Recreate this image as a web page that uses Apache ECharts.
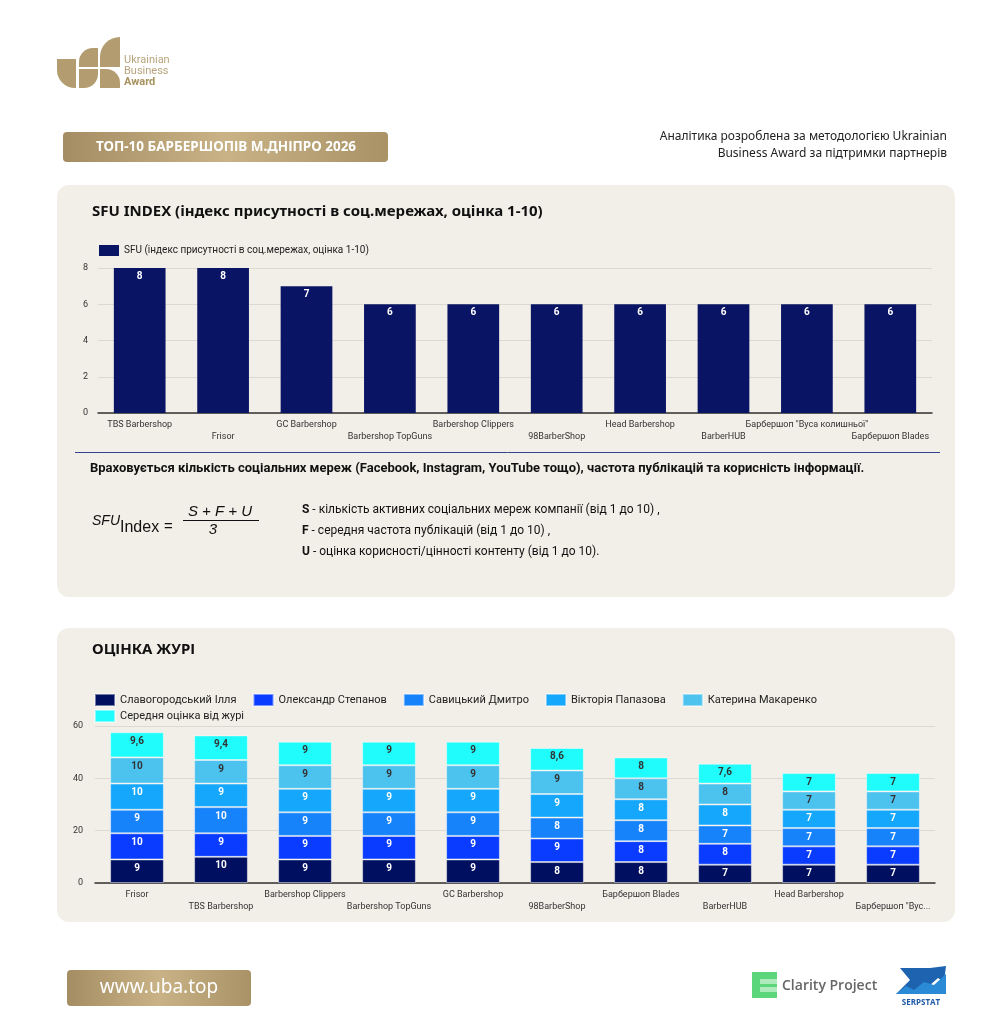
<!DOCTYPE html>
<html><head><meta charset="utf-8">
<script src="https://cdn.jsdelivr.net/npm/echarts@6/dist/echarts.min.js"></script>
<style>html,body{margin:0;padding:0;background:#fff}#c{width:1004px;height:1024px}</style>
</head><body><div id="c"></div>
<script>
// ---------- data ----------
const sfuCats = ['TBS Barbershop','Frisor','GC Barbershop','Barbershop TopGuns','Barbershop Clippers','98BarberShop','Head Barbershop','BarberHUB','Барбершоп "Вуса колишньої"','Барбершоп Blades'];
const sfuVals = [8,8,7,6,6,6,6,6,6,6];
const sfuTicks = [0,2,4,6,8];

const juryCats = ['Frisor','TBS Barbershop','Barbershop Clippers','Barbershop TopGuns','GC Barbershop','98BarberShop','Барбершоп Blades','BarberHUB','Head Barbershop','Барбершоп "Вуса колишньої"'];
const slavohorodskyi = [9,10,9,9,9,8,8,7,7,7];
const stepanov = [10,9,9,9,9,9,8,8,7,7];
const savytskyi = [9,10,9,9,9,8,8,7,7,7];
const papazova = [10,9,9,9,9,9,8,8,7,7];
const makarenko = [10,9,9,9,9,9,8,8,7,7];
const juryAvg = [9.6,9.4,9,9,9,8.6,8,7.6,7,7];
const juryTicks = [0,20,40,60];
const juryNames = ['Славогородський Ілля','Олександр Степанов','Савицький Дмитро','Вікторія Папазова','Катерина Макаренко','Середня оцінка від журі'];

// ---------- styles ----------
const FONT = "'Liberation Sans Narrow','Roboto',sans-serif";
const juryColors = ['#000f5f','#0a3cff','#1783fb','#15a7fc','#4cc2ee','#20fcfc'];
const labelColors = ['#fff','#fff','#fff','#fff','#333','#333'];
const gold = {type:'linear',x:0,y:0,x2:1,y2:0,colorStops:[{offset:0,color:'#a48d62'},{offset:0.5,color:'#c8b286'},{offset:1,color:'#a99366'}]};
const panelBg = '#f2efe8';

const juryData = [slavohorodskyi, stepanov, savytskyi, papazova, makarenko, juryAvg];

const stagger = (v, i) => (i % 2 ? '\n' + v : v);

const chart = echarts.init(document.getElementById('c'), null, {renderer:'canvas'});

const logoColor = '#b39d70';
const graphics = [
  // panels
  {type:'rect', z:-10, shape:{x:57,y:185,width:898,height:412,r:12}, style:{fill:panelBg}},
  {type:'rect', z:-10, shape:{x:57,y:628,width:898,height:294,r:12}, style:{fill:panelBg}},
  // UBA logo
  {type:'rect', shape:{x:57,y:59,width:19,height:29,r:[0,0,0,18]}, style:{fill:logoColor}},
  {type:'rect', shape:{x:79,y:48,width:19,height:19,r:[14,0,0,0]}, style:{fill:logoColor}},
  {type:'rect', shape:{x:79,y:69,width:19,height:19,r:[0,0,14,0]}, style:{fill:logoColor}},
  {type:'rect', shape:{x:100,y:37,width:20,height:30,r:[20,0,0,0]}, style:{fill:logoColor}},
  {type:'rect', shape:{x:100,y:69,width:20,height:19,r:[0,14,0,0]}, style:{fill:logoColor}},
  {type:'text', x:124, y:55, style:{text:'Ukrainian', font:'11px Roboto, sans-serif', fill:'#b8a47c'}},
  {type:'text', x:124, y:66, style:{text:'Business', font:'11px Roboto, sans-serif', fill:'#b8a47c'}},
  {type:'text', x:124, y:77, style:{text:'Award', font:'bold 11px Roboto, sans-serif', fill:'#a8925f'}},
  // title badge
  {type:'rect', shape:{x:63,y:132,width:325,height:30,r:4}, style:{fill:gold}},
  {type:'text', x:226, y:147, style:{text:'ТОП-10 БАРБЕРШОПІВ М.ДНІПРО 2026', font:"bold 13.5px 'Noto Sans', sans-serif", fill:'#fff', align:'center', verticalAlign:'middle'}},
  // right header
  {type:'text', x:947, y:137, style:{text:'Аналітика розроблена за методологією Ukrainian', font:"12px 'Noto Sans', sans-serif", fill:'#222', align:'right', verticalAlign:'middle'}},
  {type:'text', x:947, y:154, style:{text:'Business Award за підтримки партнерів', font:"12px 'Noto Sans', sans-serif", fill:'#222', align:'right', verticalAlign:'middle'}},
  // panel titles
  {type:'text', x:92, y:212, style:{text:'SFU INDEX (індекс присутності в соц.мережах, оцінка 1-10)', font:"bold 15px 'Noto Sans', sans-serif", fill:'#111', verticalAlign:'middle'}},
  {type:'text', x:92, y:650, style:{text:'ОЦІНКА ЖУРІ', font:"bold 15px 'Noto Sans', sans-serif", fill:'#111', verticalAlign:'middle'}},
  // separator
  {type:'line', shape:{x1:75,y1:452.5,x2:940,y2:452.5}, style:{stroke:'#34428c', lineWidth:1}},
  {type:'text', x:90, y:469, style:{text:'Враховується кількість соціальних мереж (Facebook, Instagram, YouTube тощо), частота публікацій та корисність інформації.', font:"bold 13px " + FONT, fill:'#111', verticalAlign:'middle'}},
  // formula
  {type:'text', x:92, y:521, style:{text:'SFU', font:"italic 14px 'Liberation Sans', sans-serif", fill:'#111', verticalAlign:'middle'}},
  {type:'text', x:120, y:528, style:{text:'Index', font:"16px 'Liberation Sans', sans-serif", fill:'#111', verticalAlign:'middle'}},
  {type:'text', x:164, y:527, style:{text:'=', font:"15px 'Liberation Sans', sans-serif", fill:'#111', verticalAlign:'middle'}},
  {type:'text', x:220, y:512, style:{text:'S + F + U', font:"italic 15px 'Liberation Sans', sans-serif", fill:'#111', align:'center', verticalAlign:'middle'}},
  {type:'line', shape:{x1:183,y1:520.5,x2:259,y2:520.5}, style:{stroke:'#111', lineWidth:1}},
  {type:'text', x:213, y:530, style:{text:'3', font:"italic 15px 'Liberation Sans', sans-serif", fill:'#111', align:'center', verticalAlign:'middle'}},
  {type:'text', x:302, y:510, style:{text:'{b|S} - кількість активних соціальних мереж компанії (від 1 до 10) ,', font:"12px " + FONT, fill:'#111', verticalAlign:'middle', rich:{b:{fontWeight:'bold', fontSize:12, fontFamily:FONT, fill:'#111'}}}},
  {type:'text', x:302, y:531, style:{text:'{b|F} - середня частота публікацій (від 1 до 10) ,', font:"12px " + FONT, fill:'#111', verticalAlign:'middle', rich:{b:{fontWeight:'bold', fontSize:12, fontFamily:FONT, fill:'#111'}}}},
  {type:'text', x:302, y:552, style:{text:'{b|U} - оцінка корисності/цінності контенту (від 1 до 10).', font:"12px " + FONT, fill:'#111', verticalAlign:'middle', rich:{b:{fontWeight:'bold', fontSize:12, fontFamily:FONT, fill:'#111'}}}},
  // footer badge
  {type:'rect', shape:{x:67,y:970,width:184,height:36,r:4}, style:{fill:gold}},
  {type:'text', x:159, y:988, style:{text:'www.uba.top', font:"19px 'Noto Sans', sans-serif", fill:'#fff', align:'center', verticalAlign:'middle'}},
  // Clarity Project logo
  {type:'rect', shape:{x:752,y:972,width:25,height:26}, style:{fill:'#3ecf63', opacity:0.85}},
  {type:'rect', shape:{x:760,y:979,width:17,height:5}, style:{fill:'#fff', opacity:0.5}},
  {type:'rect', shape:{x:760,y:987,width:17,height:5}, style:{fill:'#fff', opacity:0.5}},
  {type:'text', x:782, y:986, style:{text:'Clarity Project', font:"600 14px 'Open Sans', sans-serif", fill:'#666', verticalAlign:'middle'}},
  // Serpstat logo
  {type:'polygon', shape:{points:[[900,968],[930,968],[946,966],[944,982],[938,978],[920,994],[896,994],[910,980],[905,974]]}, style:{fill:'#1e63b0'}},
  {type:'polygon', shape:{points:[[896,994],[906,986],[914,990],[924,982],[934,985],[946,974],[946,994]]}, style:{fill:'#2b8ad6'}},
  {type:'text', x:921, y:1003, style:{text:'SERPSTAT', font:"bold 8px 'Open Sans', sans-serif", fill:'#1e5aa8', align:'center', verticalAlign:'middle'}}
];

const juryFmt = p => String(p.value).replace('.', ',');
const juryLegendText = {fontSize:11, color:'#222', fontFamily:FONT};

const option = {
  animation:false,
  backgroundColor:'#ffffff',
  textStyle:{fontFamily:FONT},
  graphic:{elements:graphics},
  legend:[
    {data:['SFU (індекс присутності в соц.мережах, оцінка 1-10)'], left:99, top:243, itemWidth:20, itemHeight:11, itemGap:10, padding:[2,0,2,0],
     textStyle:{fontSize:10, color:'#222', fontFamily:FONT}, icon:'rect'},
    {data:juryNames.slice(0,5), left:94, top:693, itemWidth:20, itemHeight:12, itemGap:16, padding:0,
     textStyle:juryLegendText, icon:'rect'},
    {data:juryNames.slice(5), left:94, top:709, itemWidth:20, itemHeight:12, itemGap:16, padding:0,
     textStyle:juryLegendText, icon:'rect'}
  ],
  grid:[
    {left:98, right:72, top:268, bottom:611, containLabel:false},
    {left:95, right:69, top:726, bottom:141, containLabel:false}
  ],
  xAxis:[
    {type:'category', gridIndex:0, data:sfuCats,
     axisLine:{lineStyle:{color:'#333', width:1.5}}, axisTick:{show:false},
     axisLabel:{interval:0, fontSize:9, color:'#333', margin:6, lineHeight:12, formatter:stagger}},
    {type:'category', gridIndex:1, data:juryCats,
     axisLine:{lineStyle:{color:'#333', width:1.5}}, axisTick:{show:false},
     axisLabel:{interval:0, fontSize:9, color:'#333', margin:6, lineHeight:12, width:121, overflow:'truncate', ellipsis:'...', formatter:stagger}}
  ],
  yAxis:[
    {type:'value', gridIndex:0, min:sfuTicks[0], max:sfuTicks[sfuTicks.length-1], interval:2,
     axisLabel:{fontSize:9, color:'#333', margin:10}, splitLine:{lineStyle:{color:'#dcd9d2'}}, axisLine:{show:false}},
    {type:'value', gridIndex:1, min:juryTicks[0], max:juryTicks[juryTicks.length-1], interval:20,
     axisLabel:{fontSize:9, color:'#333', margin:12}, splitLine:{lineStyle:{color:'#dcd9d2'}}, axisLine:{show:false}}
  ],
  series:[
    {name:'SFU (індекс присутності в соц.мережах, оцінка 1-10)', type:'bar', xAxisIndex:0, yAxisIndex:0,
     data:sfuVals, barWidth:'62%', itemStyle:{color:'#0a1464'},
     label:{show:true, position:'insideTop', distance:3, color:'#fff', fontSize:10, fontWeight:'bold'}}
  ].concat(juryNames.map((n, i) => ({
     name:n, type:'bar', stack:'jury', xAxisIndex:1, yAxisIndex:1, data:juryData[i], barWidth:'64%',
     itemStyle:{color:juryColors[i], borderColor:'rgba(255,255,255,0.45)', borderWidth:1},
     label:{show:true, position:'insideTop', distance:4, color:labelColors[i], fontSize:10, fontWeight:'bold', formatter:juryFmt}
  })))
};
chart.setOption(option);
</script></body></html>
